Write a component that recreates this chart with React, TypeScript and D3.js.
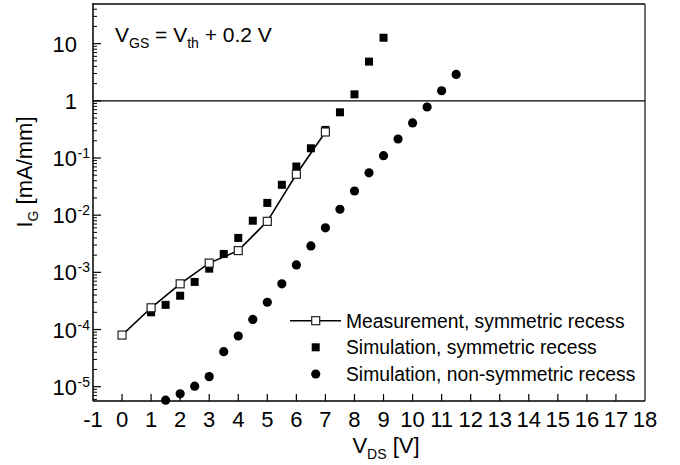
import React from "react";
import * as d3 from "d3";

const xTicks = [-1, 0, 1, 2, 3, 4, 5, 6, 7, 8, 9, 10, 11, 12, 13, 14, 15, 16, 17, 18];
const yDecades = [-5, -4, -3, -2, -1, 0, 1];

const measV = [0, 1, 2, 3, 4, 5, 6, 7];
const measI = [8e-5, 2.4e-4, 6.3e-4, 1.45e-3, 2.4e-3, 7.8e-3, 5.2e-2, 0.285];

const simSymV = [1, 1.5, 2, 2.5, 3, 3.5, 4, 4.5, 5, 5.5, 6, 6.5, 7, 7.5, 8, 8.5, 9];
const simSymI = [2.0e-4, 2.7e-4, 3.9e-4, 6.8e-4, 1.16e-3, 2.1e-3, 4.0e-3, 8.0e-3, 1.64e-2, 3.4e-2, 7.1e-2, 0.148, 0.31, 0.63, 1.3, 4.85, 12.7];

const simNonV = [1.5, 2, 2.5, 3, 3.5, 4, 4.5, 5, 5.5, 6, 6.5, 7, 7.5, 8, 8.5, 9, 9.5, 10, 10.5, 11, 11.5];
const simNonI = [5.8e-6, 7.5e-6, 1.02e-5, 1.5e-5, 4.1e-5, 7.7e-5, 1.5e-4, 3.0e-4, 6.3e-4, 1.35e-3, 2.9e-3, 6.0e-3, 1.27e-2, 2.65e-2, 5.5e-2, 0.11, 0.215, 0.41, 0.78, 1.5, 2.9];

const legendLabels = [
  "Measurement, symmetric recess",
  "Simulation, symmetric recess",
  "Simulation, non-symmetric recess",
];

const FONT = "'Liberation Sans', Arial, sans-serif";

export default function App() {
  const W = 680, H = 465;
  const L = 93, R = 645, T = 4, B = 401;
  const x = d3.scaleLinear().domain([-1, 18]).range([L, R]);
  const y = d3.scaleLog().domain([5.62e-6, 49.4]).range([B, T]);

  const line = d3.line<number>().x((_, i) => x(measV[i])).y((d) => y(d));

  const minor: number[] = [];
  for (let e = -6; e <= 1; e++) {
    for (let k = 2; k <= 9; k++) {
      const v = k * Math.pow(10, e);
      if (v >= y.domain()[0] && v <= y.domain()[1]) minor.push(v);
    }
  }

  const sq = 8;
  const cr = 4.6;
  const legX = 315.7;
  const legY = [320.7, 347.3, 374];

  return (
    <svg width={W} height={H} style={{ position: "absolute", left: 0, top: 0, background: "#fff" }} fontFamily={FONT}>
      <rect x={0} y={0} width={W} height={H} fill="#fff" />
      {/* frame */}
      <line x1={L} x2={R} y1={T} y2={T} stroke="#444" strokeWidth={2} />
      <line x1={R} x2={R} y1={T} y2={B} stroke="#222" strokeWidth={1.3} />
      <line x1={L} x2={L} y1={T - 1} y2={B} stroke="#000" strokeWidth={1.5} />
      <line x1={L} x2={R} y1={B} y2={B} stroke="#000" strokeWidth={1.5} />
      {/* y=1 line */}
      <line x1={L} x2={R} y1={y(1)} y2={y(1)} stroke="#000" strokeWidth={1.2} />
      {/* y ticks */}
      {yDecades.map((e) => (
        <line key={"M" + e} x1={L} x2={L + 8} y1={y(Math.pow(10, e))} y2={y(Math.pow(10, e))} stroke="#000" strokeWidth={1.2} />
      ))}
      {minor.map((v, i) => (
        <line key={"m" + i} x1={L} x2={L + 4} y1={y(v)} y2={y(v)} stroke="#000" strokeWidth={1} />
      ))}
      {/* y tick labels */}
      {yDecades.map((e) => {
        const yy = y(Math.pow(10, e)) + 8;
        if (e === 0) return <text key={"l" + e} x={77} y={yy} fontSize={22} textAnchor="end">1</text>;
        if (e === 1) return <text key={"l" + e} x={77} y={yy} fontSize={22} textAnchor="end">10</text>;
        return (
          <g key={"l" + e}>
            <text x={77} y={yy} fontSize={22} textAnchor="end">10</text>
            <text x={77.5} y={yy - 8} fontSize={14} textAnchor="start">{String(e)}</text>
          </g>
        );
      })}
      {/* x ticks */}
      {xTicks.map((t) => (
        <g key={"x" + t}>
          {t > -1 && t < 18 && <line x1={x(t)} x2={x(t)} y1={B} y2={B - 7} stroke="#000" strokeWidth={1.2} />}
          <text x={x(t)} y={426.5} fontSize={22} textAnchor="middle">{String(t)}</text>
        </g>
      ))}
      {/* axis titles */}
      <text x={386} y={452.7} fontSize={22} textAnchor="middle">
        V<tspan fontSize={14} dy={6}>DS</tspan><tspan dy={-6}> [V]</tspan>
      </text>
      <text transform="translate(32,172) rotate(-90)" fontSize={22} textAnchor="middle">
        I<tspan fontSize={14} dy={6}>G</tspan><tspan dy={-6}> [mA/mm]</tspan>
      </text>
      {/* annotation */}
      <text x={115} y={41.7} fontSize={21} fill="#000">
        V<tspan fontSize={14} dy={6}>GS</tspan>
        <tspan dy={-6}> = V</tspan>
        <tspan fontSize={14} dy={6}>th</tspan>
        <tspan dy={-6}> + 0.2 V</tspan>
      </text>
      {/* measurement line */}
      <path d={line(measI) || ""} fill="none" stroke="#000" strokeWidth={1.6} />
      {/* sim symmetric squares */}
      {simSymI.map((v, i) => (
        <rect key={"s" + i} x={x(simSymV[i]) - sq / 2} y={y(v) - sq / 2} width={sq} height={sq} fill="#000" />
      ))}
      {/* measurement open squares */}
      {measI.map((v, i) => (
        <rect key={"o" + i} x={x(measV[i]) - sq / 2} y={y(v) - sq / 2} width={sq} height={sq} fill="#fff" stroke="#222" strokeWidth={1.2} />
      ))}
      {/* sim non-symmetric circles */}
      {simNonI.map((v, i) => (
        <circle key={"c" + i} cx={x(simNonV[i])} cy={y(v)} r={cr} fill="#000" />
      ))}
      {/* legend */}
      <line x1={290} x2={341} y1={legY[0]} y2={legY[0]} stroke="#000" strokeWidth={1.6} />
      <rect x={legX - sq / 2} y={legY[0] - sq / 2} width={sq} height={sq} fill="#fff" stroke="#222" strokeWidth={1.2} />
      <rect x={legX - sq / 2} y={legY[1] - sq / 2} width={sq} height={sq} fill="#000" />
      <circle cx={legX} cy={legY[2]} r={cr} fill="#000" />
      {legendLabels.map((s, i) => (
        <text key={"lg" + i} x={346} y={legY[i] + 6.8} fontSize={19.3}>{s}</text>
      ))}
    </svg>
  );
}
